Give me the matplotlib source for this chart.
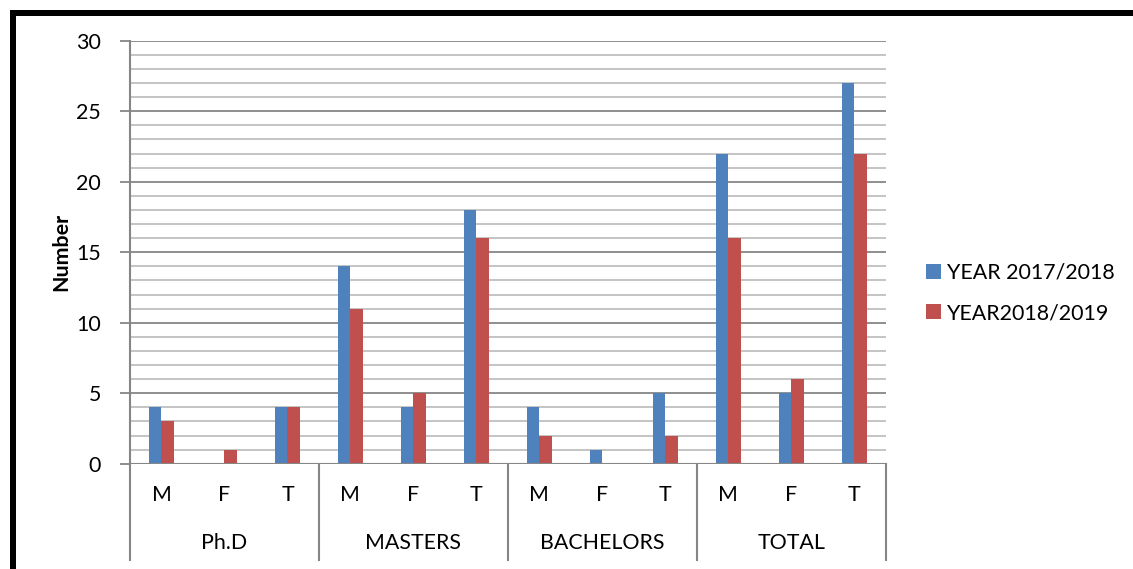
import matplotlib
matplotlib.use("Agg")
import matplotlib.pyplot as plt
from matplotlib.patches import Rectangle, Patch
from matplotlib.lines import Line2D
from matplotlib.transforms import blended_transform_factory
import numpy as np

# ---- data ----
groups = ["Ph.D", "MASTERS", "BACHELORS", "TOTAL"]
subcats = ["M", "F", "T"]
series_names = ["YEAR 2017/2018", "YEAR2018/2019"]
year_2017_2018 = [4, 0, 4, 14, 4, 18, 4, 1, 5, 22, 5, 27]
year_2018_2019 = [3, 1, 4, 11, 5, 16, 2, 0, 2, 16, 6, 22]
y_ticks = [0, 5, 10, 15, 20, 25, 30]

BLUE = "#4F81BD"
RED = "#C0504D"
MAJOR_GRAY = "#868686"
MINOR_GRAY = "#BFBFBF"

plt.rcParams["font.family"] = ["Lato", "DejaVu Sans"]
FS = 15.4

W, H = 1133, 569
fig = plt.figure(figsize=(W / 100, H / 100), dpi=100)
fig.patch.set_facecolor("white")

# plot area in pixel coordinates
px_left, px_right, px_top, px_bottom = 130, 885.7, 40.7, 463.7
ax = fig.add_axes([px_left / W, 1 - px_bottom / H,
                   (px_right - px_left) / W, (px_bottom - px_top) / H])

n = len(year_2017_2018)
x = np.arange(n)
bw = 0.2
ax.bar(x - bw / 2, year_2017_2018, width=bw, color=BLUE, zorder=3)
ax.bar(x + bw / 2, year_2018_2019, width=bw, color=RED, zorder=3)

ax.set_xlim(-0.5, n - 0.5)
ax.set_ylim(0, 30)

# gridlines: light every unit, darker every five
for v in range(1, 31):
    ax.axhline(v, color=MAJOR_GRAY if v % 5 == 0 else MINOR_GRAY,
               lw=1.3, zorder=1)
ax.axhline(0, color=MAJOR_GRAY, lw=1.5, zorder=4)

for s in ["top", "right", "bottom"]:
    ax.spines[s].set_visible(False)
ax.spines["left"].set_color(MAJOR_GRAY)
ax.spines["left"].set_linewidth(1.5)

ax.set_yticks(y_ticks)
ax.set_yticklabels([str(t) for t in y_ticks], fontsize=FS)
ax.tick_params(axis="y", direction="out", length=7, width=1.3,
               color=MAJOR_GRAY, pad=14)
ax.set_xticks([])

# two-level category axis
trans = blended_transform_factory(ax.transData, ax.transAxes)
ax_h = px_bottom - px_top
y_sub = (px_bottom - 495) / ax_h
y_grp = (px_bottom - 543) / ax_h
y_end = (px_bottom - 560) / ax_h
for i in range(n):
    ax.text(i, y_sub, subcats[i % 3], transform=trans, ha="center",
            va="center", fontsize=FS)
for g, name in enumerate(groups):
    ax.text(g * 3 + 1, y_grp, name, transform=trans, ha="center",
            va="center", fontsize=FS)
for b in range(len(groups) + 1):
    ax.add_line(Line2D([b * 3 - 0.5, b * 3 - 0.5], [0, y_end],
                       transform=trans, color=MAJOR_GRAY, lw=1.5,
                       clip_on=False))

fig.text(61 / W, 1 - 252 / H, "Number", rotation=90, fontsize=FS,
         fontweight="bold", ha="center", va="center")

handles = [Patch(facecolor=BLUE), Patch(facecolor=RED)]
fig.legend(handles, series_names, loc="center left",
           bbox_to_anchor=(915 / W, 1 - 293 / H), frameon=False,
           fontsize=FS, handlelength=0.7, handleheight=0.7,
           handletextpad=0.3, labelspacing=0.95, borderpad=0)

# heavy frame along the left and top edges
fig.add_artist(Rectangle((10 / W, 0), 5.5 / W, 1 - 10 / H,
                         transform=fig.transFigure, color="black", lw=0))
fig.add_artist(Rectangle((10 / W, 1 - 15.5 / H), 1 - 10 / W, 5.5 / H,
                         transform=fig.transFigure, color="black", lw=0))

fig.savefig("out.png", dpi=100)
